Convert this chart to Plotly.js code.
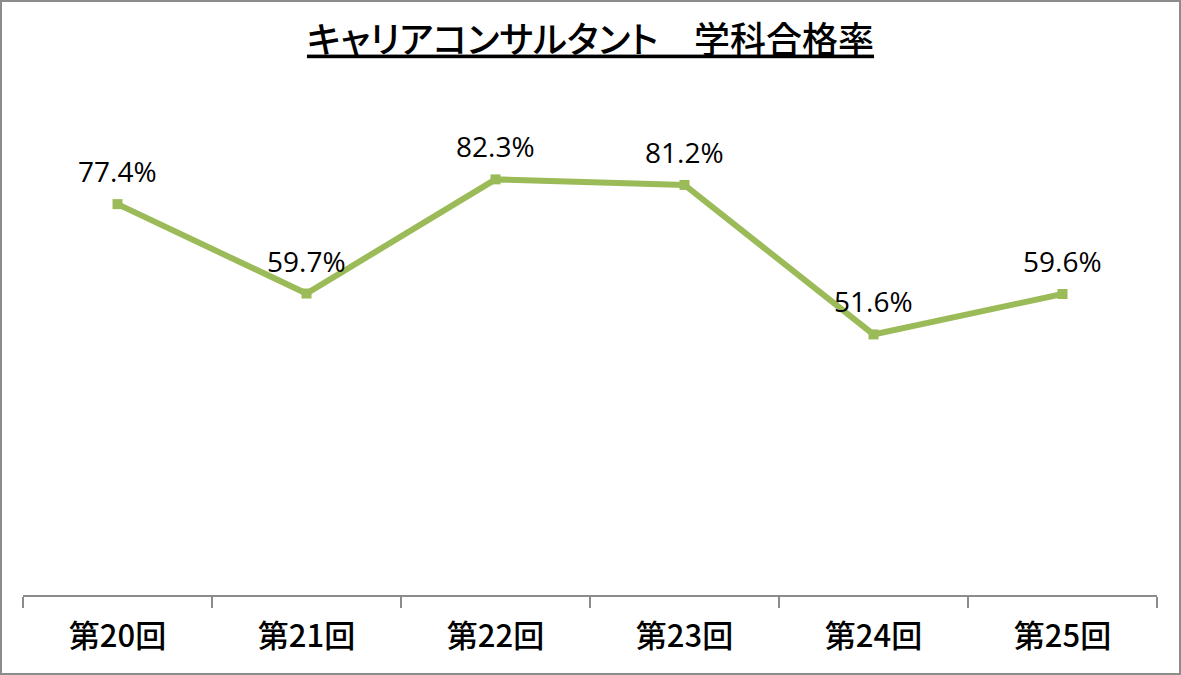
<!DOCTYPE html>
<html>
<head>
<meta charset="utf-8">
<script src="https://cdn.plot.ly/plotly-3.0.1.min.js"></script>
<style>
  html, body { margin: 0; padding: 0; background: #fff; }
  #wrap { position: relative; width: 1181px; height: 675px; }
  #chart { position: absolute; left: 0; top: 0; width: 1181px; height: 675px; }
  #frame { position: absolute; left: 0; top: 0; width: 1177px; height: 671px; border: 2px solid #8c8c8c; pointer-events: none; }
  .gtitle { font-feature-settings: "palt"; }
</style>
</head>
<body>
<div id="wrap">
  <div id="chart"></div>
  <div id="frame"></div>
</div>
<script>
const categories = ['第20回', '第21回', '第22回', '第23回', '第24回', '第25回'];
const passRates = [77.4, 59.7, 82.3, 81.2, 51.6, 59.6];
const chartTitle = 'キャリアコンサルタント　学科合格率';

const lineColor = '#9BBB59';

const trace = {
  x: categories,
  y: passRates,
  type: 'scatter',
  mode: 'lines+markers',
  line: { color: lineColor, width: 6 },
  marker: { symbol: 'square', size: 10, color: lineColor },
  hoverinfo: 'skip'
};

const annotations = categories.map((c, i) => ({
  x: c,
  y: passRates[i],
  xref: 'x',
  yref: 'y',
  text: passRates[i].toFixed(1) + '%',
  showarrow: false,
  yshift: 33,
  font: { family: 'Open Sans, Liberation Sans, sans-serif', size: 28, color: '#000' }
}));

const layout = {
  width: 1181,
  height: 675,
  margin: { l: 23, r: 24, t: 90, b: 80 },
  paper_bgcolor: '#fff',
  plot_bgcolor: '#fff',
  showlegend: false,
  title: {
    text: '<u>' + chartTitle + '</u>',
    x: 0.5,
    xanchor: 'center',
    y: 1 - 40 / 675,
    yanchor: 'middle',
    font: { family: 'Noto Sans CJK JP, sans-serif', size: 36, color: '#000', weight: 500 }
  },
  xaxis: {
    type: 'category',
    range: [-0.5, 5.5],
    showgrid: false,
    zeroline: false,
    showline: true,
    linecolor: '#8c8c8c',
    linewidth: 2,
    ticks: 'outside',
    tickson: 'boundaries',
    ticklen: 11,
    tickwidth: 2,
    tickcolor: '#8c8c8c',
    ticklabelstandoff: 13,
    tickfont: { family: 'Noto Sans CJK JP, sans-serif', size: 31, color: '#000', weight: 500 },
    fixedrange: true
  },
  yaxis: {
    range: [0, 100],
    visible: false,
    showgrid: false,
    zeroline: false,
    fixedrange: true
  },
  annotations: annotations
};

Plotly.newPlot('chart', [trace], layout, { displayModeBar: false, staticPlot: true });
</script>
</body>
</html>
